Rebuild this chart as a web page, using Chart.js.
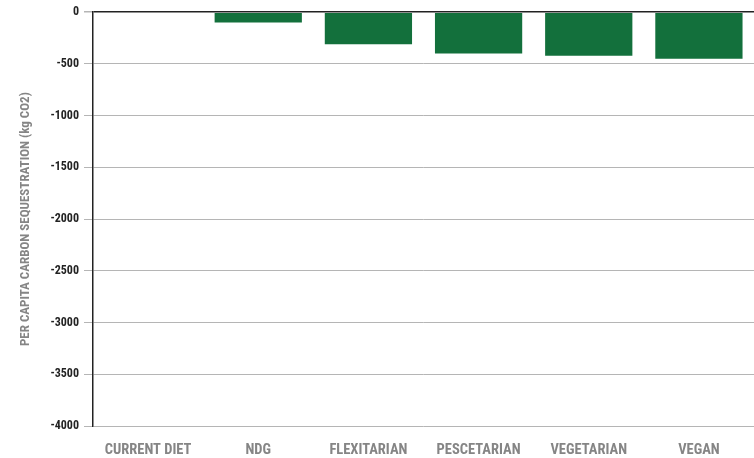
<!DOCTYPE html>
<html>
<head>
<meta charset="utf-8">
<script src="https://cdn.jsdelivr.net/npm/chart.js@4"></script>
<style>
html,body{margin:0;padding:0;background:#fff;}
#wrap{width:754px;height:458px;}
</style>
</head>
<body>
<div id="wrap"><canvas id="c" width="754" height="458"></canvas></div>
<script>
const categories = ["CURRENT DIET", "NDG", "FLEXITARIAN", "PESCETARIAN", "VEGETARIAN", "VEGAN"];
const sequestration = [0, -100, -310, -400, -420, -450];
const yMin = -4000;
const yMax = 0;
const yStep = 500;
const yTitle = "PER CAPITA CARBON SEQUESTRATION (kg CO2)";

const FONT = "'Liberation Sans Narrow', 'Roboto Condensed', 'DejaVu Sans Condensed', sans-serif";

new Chart(document.getElementById('c'), {
  type: 'bar',
  data: {
    labels: categories,
    datasets: [{
      data: sequestration,
      backgroundColor: '#13703c',
      borderWidth: 0,
      categoryPercentage: 0.8,
      barPercentage: 0.99
    }]
  },
  options: {
    responsive: false,
    animation: false,
    layout: { padding: { top: 11, right: 0, left: 0, bottom: 0 } },
    plugins: { legend: { display: false }, tooltip: { enabled: false } },
    scales: {
      x: {
        grid: { display: false },
        border: { display: false },
        ticks: {
          color: '#858585',
          padding: 8,
          font: { family: FONT, size: 14.5, weight: 'bold' }
        },
        afterFit: s => { s.height = 32; }
      },
      y: {
        min: yMin,
        max: yMax,
        ticks: {
          stepSize: yStep,
          color: '#222',
          padding: 5,
          font: { family: FONT, size: 12, weight: 'bold' },
          callback: v => String(v)
        },
        grid: {
          color: ctx => (ctx.tick && ctx.tick.value === 0) ? '#222' : '#b5b5b5',
          lineWidth: ctx => (ctx.tick && ctx.tick.value === 0) ? 1.5 : 1,
          tickLength: 9,
          tickColor: '#b5b5b5'
        },
        border: { display: true, color: '#222', width: 1.5 },
        title: {
          display: true,
          text: yTitle,
          color: '#858585',
          padding: { top: 18, bottom: 0 },
          font: { family: FONT, size: 13, weight: 'bold' }
        },
        afterFit: s => { s.width = 93; }
      }
    }
  }
});
</script>
</body>
</html>
